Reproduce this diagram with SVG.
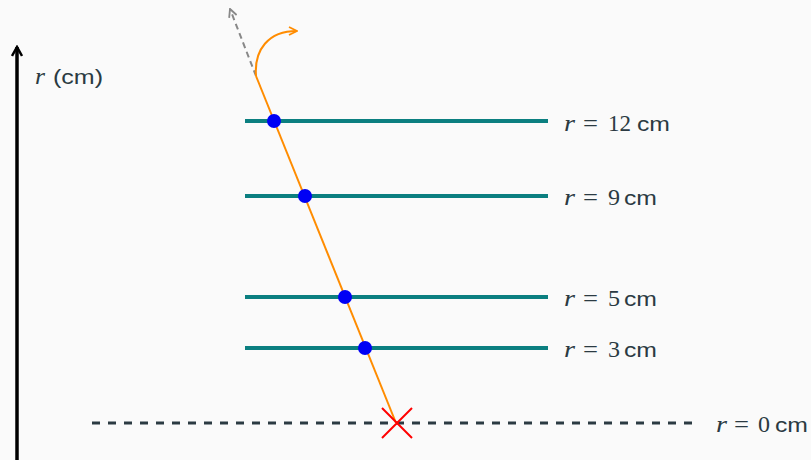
<svg xmlns="http://www.w3.org/2000/svg" width="811" height="460" viewBox="0 0 811 460">
<style>
text{fill:#2b3a42;}
.it{font-family:'Liberation Serif','Times New Roman','DejaVu Serif',serif;font-style:italic;font-size:24px;}
.sf{font-family:'Liberation Serif','Times New Roman','DejaVu Serif',serif;font-size:23px;}
.ss{font-family:'Liberation Sans',Arial,Helvetica,sans-serif;font-size:20px;}
.level{stroke:#0b7f80;stroke-width:4;}
.dot{fill:#0000f5;}
</style>
<defs>
<marker id="chevK" viewBox="0 0 12 12" refX="10" refY="6" markerWidth="12" markerHeight="12" markerUnits="userSpaceOnUse" orient="auto"><path d="M1,1 L10,6 L1,11" fill="none" stroke="#000" stroke-width="2.5"/></marker>
<marker id="chevG" viewBox="0 0 10 10" refX="9" refY="5" markerWidth="10" markerHeight="10" markerUnits="userSpaceOnUse" orient="auto"><path d="M1,1 L9,5 L1,9" fill="none" stroke="#888" stroke-width="1.8"/></marker>
<marker id="chevO" viewBox="0 0 10 10" refX="9" refY="5" markerWidth="10" markerHeight="10" markerUnits="userSpaceOnUse" orient="auto"><path d="M1,1 L9,5 L1,9" fill="none" stroke="#ff8c00" stroke-width="1.8"/></marker>
</defs>
<rect width="811" height="460" fill="#fafafa"/>
<g id="axis">
<line x1="17" y1="460" x2="17" y2="47" stroke="#000" stroke-width="3.5" marker-end="url(#chevK)"/>
<text class="it" x="35" y="84" textLength="10" lengthAdjust="spacingAndGlyphs">r</text>
<text class="ss" x="53" y="84" textLength="50" lengthAdjust="spacingAndGlyphs">(cm)</text>
</g>
<g id="connectors">
<line x1="92" y1="423" x2="693" y2="423" stroke="#2b3a42" stroke-width="3" stroke-dasharray="8 8"/>
<line x1="256" y1="76" x2="230" y2="9" stroke="#888" stroke-width="2" stroke-dasharray="6 4" marker-end="url(#chevG)"/>
<line x1="256" y1="76" x2="396" y2="423" stroke="#ff8c00" stroke-width="2"/>
<path d="M256,76 C254,50 268,31 297,31" fill="none" stroke="#ff8c00" stroke-width="2" marker-end="url(#chevO)"/>
</g>
<g id="level12">
<line class="level" x1="245" y1="121" x2="548" y2="121"/>
<circle class="dot" cx="274" cy="121" r="7"/>
<text class="it" x="564" y="131" textLength="11" lengthAdjust="spacingAndGlyphs">r</text>
<text class="sf" x="583" y="131" textLength="15" lengthAdjust="spacingAndGlyphs">=</text>
<text class="sf" x="608" y="131" textLength="23" lengthAdjust="spacingAndGlyphs">12</text>
<text class="ss" x="637" y="131" textLength="33" lengthAdjust="spacingAndGlyphs">cm</text>
</g>
<g id="level9">
<line class="level" x1="245" y1="196" x2="548" y2="196"/>
<circle class="dot" cx="305" cy="196" r="7"/>
<text class="it" x="564" y="205" textLength="11" lengthAdjust="spacingAndGlyphs">r</text>
<text class="sf" x="583" y="205" textLength="15" lengthAdjust="spacingAndGlyphs">=</text>
<text class="sf" x="608" y="205" textLength="12" lengthAdjust="spacingAndGlyphs">9</text>
<text class="ss" x="624" y="205" textLength="33" lengthAdjust="spacingAndGlyphs">cm</text>
</g>
<g id="level5">
<line class="level" x1="245" y1="297" x2="548" y2="297"/>
<circle class="dot" cx="345" cy="297" r="7"/>
<text class="it" x="564" y="306" textLength="11" lengthAdjust="spacingAndGlyphs">r</text>
<text class="sf" x="583" y="306" textLength="15" lengthAdjust="spacingAndGlyphs">=</text>
<text class="sf" x="608" y="306" textLength="12" lengthAdjust="spacingAndGlyphs">5</text>
<text class="ss" x="624" y="306" textLength="33" lengthAdjust="spacingAndGlyphs">cm</text>
</g>
<g id="level3">
<line class="level" x1="245" y1="348" x2="548" y2="348"/>
<circle class="dot" cx="365" cy="348" r="7"/>
<text class="it" x="564" y="357" textLength="11" lengthAdjust="spacingAndGlyphs">r</text>
<text class="sf" x="583" y="357" textLength="15" lengthAdjust="spacingAndGlyphs">=</text>
<text class="sf" x="608" y="357" textLength="12" lengthAdjust="spacingAndGlyphs">3</text>
<text class="ss" x="624" y="357" textLength="33" lengthAdjust="spacingAndGlyphs">cm</text>
</g>
<g id="level0">
<path d="M382,408 L412,438 M412,408 L382,438" stroke="#ff0000" stroke-width="2"/>
<text class="it" x="716" y="432" textLength="11" lengthAdjust="spacingAndGlyphs">r</text>
<text class="sf" x="734" y="432" textLength="15" lengthAdjust="spacingAndGlyphs">=</text>
<text class="sf" x="758" y="432" textLength="12" lengthAdjust="spacingAndGlyphs">0</text>
<text class="ss" x="775" y="432" textLength="33" lengthAdjust="spacingAndGlyphs">cm</text>
</g>
</svg>
